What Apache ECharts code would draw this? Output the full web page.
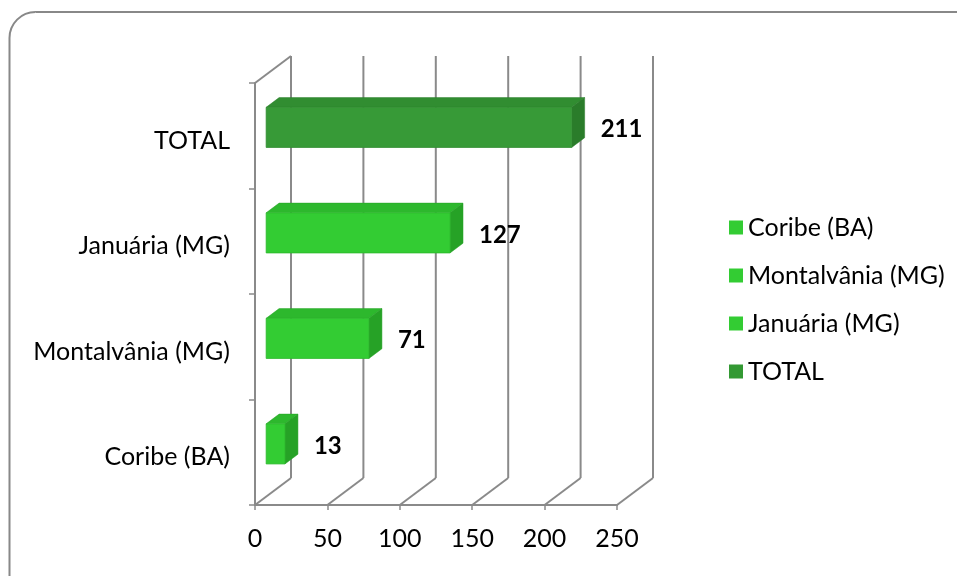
<!DOCTYPE html>
<html><head><meta charset="utf-8">
<script src="https://cdn.jsdelivr.net/npm/echarts@6/dist/echarts.min.js"></script>
<style>html,body{margin:0;padding:0;background:#fff}#c{width:957px;height:576px}</style>
</head><body><div id="c"></div>
<script>
var categories = ['Coribe (BA)', 'Montalvânia (MG)', 'Januária (MG)', 'TOTAL'];
var values = [13, 71, 127, 211];
var xTicks = [0, 50, 100, 150, 200, 250];
var barColors = [
  ['#33cc33', '#2db82d', '#26a226'],
  ['#33cc33', '#2db82d', '#26a226'],
  ['#33cc33', '#2db82d', '#26a226'],
  ['#379a37', '#318d31', '#2a7c2a']
];
var legendColors = ['#33cc33', '#33cc33', '#33cc33', '#339933'];

var DX = 36, DY = -27;           // depth of the 3D box
var F = 0.31, B = 0.67;          // bar front/back depth fractions
var FONT = 'Lato';

var chart = echarts.init(document.getElementById('c'), null, {renderer: 'canvas'});

function wallRender(params, api) {
  var v = api.value(0);
  var band = api.size([0, 1])[1];
  var pb = api.coord([v, 0]);
  var pt = api.coord([v, categories.length - 1]);
  var x = pb[0];
  var bottom = pb[1] + band / 2;
  var top = pt[1] - band / 2;
  var st = {stroke: '#8a8a8a', lineWidth: 2};
  var children = [
    {type: 'line', shape: {x1: x + DX, y1: bottom + DY, x2: x + DX, y2: top + DY}, style: st},
    {type: 'line', shape: {x1: x, y1: bottom, x2: x + DX, y2: bottom + DY}, style: st}
  ];
  if (params.dataIndex === 0) {
    children.push({type: 'line', shape: {x1: x, y1: top, x2: x + DX, y2: top + DY}, style: st});
  }
  return {type: 'group', children: children};
}

function barRender(params, api) {
  var v = api.value(0), idx = api.value(1);
  var cols = barColors[idx];
  var band = api.size([0, 1])[1];
  var p0 = api.coord([0, idx]);
  var p1 = api.coord([v, idx]);
  var h = band * 0.38;
  var fx = F * DX, fy = F * DY, bx = B * DX, by = B * DY;
  var x0 = p0[0] + fx, x1 = p1[0] + fx;
  var yc = p0[1] + fy;
  var yt = yc - h / 2, yb = yc + h / 2;
  var ddx = bx - fx, ddy = by - fy;
  return {type: 'group', children: [
    {type: 'polygon', shape: {points: [[x0, yt], [x1, yt], [x1 + ddx, yt + ddy], [x0 + ddx, yt + ddy]]},
      style: {fill: cols[1], stroke: cols[2], lineWidth: 0.5}},
    {type: 'polygon', shape: {points: [[x1, yt], [x1 + ddx, yt + ddy], [x1 + ddx, yb + ddy], [x1, yb]]},
      style: {fill: cols[2], stroke: cols[2], lineWidth: 0.5}},
    {type: 'rect', shape: {x: x0, y: yt, width: x1 - x0, height: h},
      style: {fill: cols[0], stroke: cols[1], lineWidth: 0.8}},
    {type: 'text', x: x1 + ddx + 16, y: yc + 2,
      style: {text: String(v), fill: '#000', font: 'bold 24px ' + FONT, verticalAlign: 'middle', align: 'left'}}
  ]};
}

var series = [{
  type: 'custom', name: 'walls', z: 1, silent: true,
  renderItem: wallRender, encode: {x: 0, y: 1},
  data: xTicks.map(function (t) { return [t, 0]; })
}];
categories.forEach(function (c, i) {
  series.push({
    type: 'custom', name: c, z: 5, silent: true,
    itemStyle: {color: legendColors[i]},
    renderItem: barRender, encode: {x: 0, y: 1},
    data: [[values[i], i]]
  });
});

chart.setOption({
  animation: false,
  textStyle: {fontFamily: FONT},
  graphic: [{type: 'rect', z: -10, shape: {x: 9.5, y: 12, width: 985, height: 592, r: 26},
    style: {fill: 'none', stroke: '#888', lineWidth: 2}}],
  grid: {left: 255, right: 340, top: 83, bottom: 71},
  xAxis: {
    type: 'value', min: 0, max: 250, interval: 50,
    splitLine: {show: false},
    axisLine: {show: true, lineStyle: {color: '#8a8a8a', width: 2}},
    axisTick: {show: true, length: 5, lineStyle: {color: '#8a8a8a', width: 1.5}},
    axisLabel: {color: '#000', fontSize: 25, fontFamily: FONT, margin: 21,
      formatter: function (v) { return String(v); }}
  },
  yAxis: {
    type: 'category', data: categories,
    axisLine: {show: true, lineStyle: {color: '#8a8a8a', width: 2}},
    axisTick: {show: true, length: 6, lineStyle: {color: '#8a8a8a', width: 1.5}},
    axisLabel: {color: '#000', fontSize: 25, fontFamily: FONT, margin: 25,
      formatter: function (v) { return '{a|' + v + '}'; },
      rich: {a: {fontSize: 25, fontFamily: FONT, color: '#000', padding: [10, 0, 0, 0]}}}
  },
  legend: {
    orient: 'vertical', left: 724, top: 209,
    itemWidth: 14, itemHeight: 14, itemGap: 21, icon: 'rect',
    data: categories,
    textStyle: {color: '#000', fontSize: 25, fontFamily: FONT, lineHeight: 27}
  },
  series: series
});
</script></body></html>
